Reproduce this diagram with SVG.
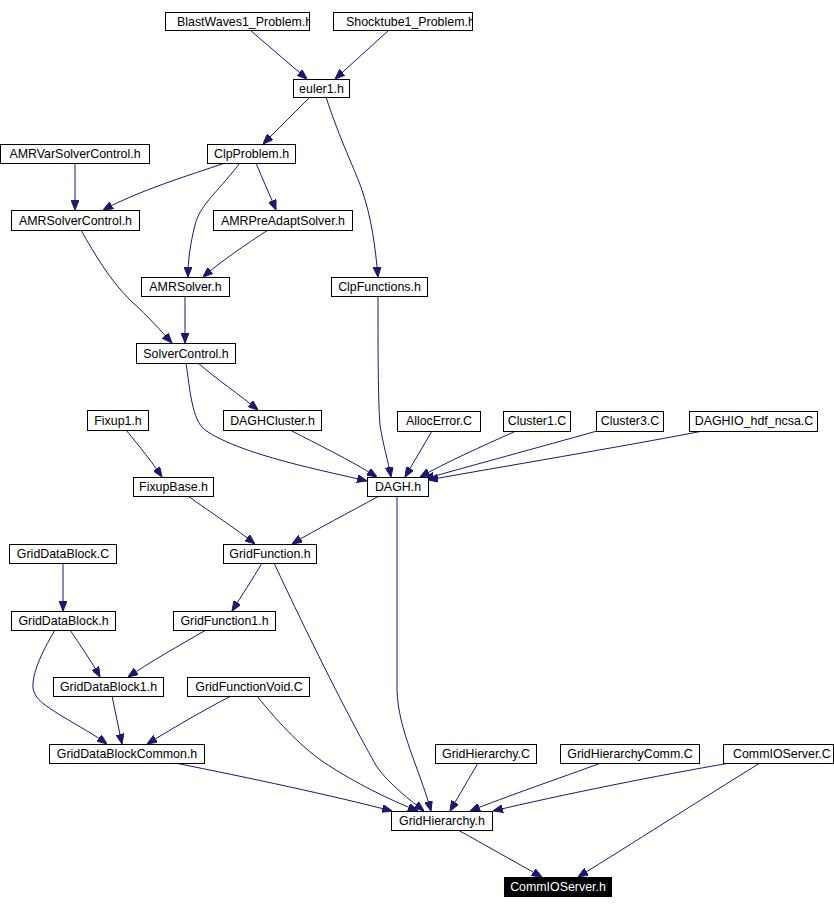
<svg xmlns="http://www.w3.org/2000/svg" width="834" height="909" viewBox="0 0 834 909">
<style>
.n rect{fill:#fff;stroke:#000;stroke-width:1}
.n text{font-family:"Liberation Sans",Arial,sans-serif;font-size:12.4px;fill:#000;text-anchor:middle}
.s text{text-anchor:start}
#CommIOServer_h rect{fill:#000}
#CommIOServer_h text{fill:#fff}
#edges path{fill:none;stroke:#191970;stroke-width:1;marker-end:url(#ah)}
</style>
<defs>
<marker id="ah" markerUnits="userSpaceOnUse" viewBox="0 0 10 8" refX="10" refY="4" markerWidth="10" markerHeight="8" orient="auto">
<path d="M0,0 L10,4 L0,8 z" fill="#191970" stroke="#191970"/>
</marker>
<clipPath id="c1"><rect x="165" y="12" width="144" height="19"/></clipPath>
<clipPath id="c2"><rect x="333" y="12" width="139" height="19"/></clipPath>
<clipPath id="c3"><rect x="723" y="744" width="110" height="20"/></clipPath>
</defs>
<rect width="834" height="909" fill="#fff"/>
<g id="edges">
<path d="M250,30 L307,79"/>
<path d="M389,30 L335,79"/>
<path d="M310,97 L263,144"/>
<path d="M326,97 C340,140 355,170 362,190 C372,220 375,245 378,277"/>
<path d="M75,163 L75,210"/>
<path d="M225,163 C190,175 140,190 103,210"/>
<path d="M240,163 C215,195 200,205 195,225 C190,245 188,260 188,277"/>
<path d="M256,163 C262,178 270,195 276,210"/>
<path d="M268,230 C245,245 220,262 203,277"/>
<path d="M81,230 C95,255 110,280 130,300 C150,318 160,330 172,343"/>
<path d="M185,296 L185,343"/>
<path d="M198,363 C215,378 240,395 258,410"/>
<path d="M186,363 C190,390 192,420 205,430 C240,455 330,472 367,481"/>
<path d="M378,296 C378,350 378,400 380,425 C383,445 388,460 391,477"/>
<path d="M290,430 C315,443 350,460 377,477"/>
<path d="M432,431 L405,477"/>
<path d="M516,431 C480,447 445,463 420,477"/>
<path d="M597,431 C540,447 470,466 424,479"/>
<path d="M703,431 C620,447 500,467 428,480"/>
<path d="M126,430 C140,447 152,462 162,477"/>
<path d="M188,496 C210,512 235,528 255,544"/>
<path d="M379,496 C350,512 315,530 292,544"/>
<path d="M397,496 L397,690 C398,730 420,770 431,811"/>
<path d="M262,563 C252,580 242,595 232,611"/>
<path d="M274,563 C310,640 350,720 377,767 C390,785 410,800 424,811"/>
<path d="M63,563 L63,611"/>
<path d="M70,630 C80,645 92,662 100,677"/>
<path d="M55,630 C40,655 32,675 33,688 C35,700 45,705 60,715 C80,727 95,735 107,744"/>
<path d="M206,630 C180,645 150,662 128,677"/>
<path d="M112,696 L122,744"/>
<path d="M231,696 C200,712 170,730 147,744"/>
<path d="M257,696 C280,725 305,750 325,763 C355,783 390,800 418,811"/>
<path d="M175,763 C250,778 330,795 392,811"/>
<path d="M478,763 L450,811"/>
<path d="M601,763 C560,778 505,797 470,811"/>
<path d="M730,763 C660,775 560,795 493,811"/>
<path d="M760,763 C700,800 630,845 578,877"/>
<path d="M458,830 C485,845 515,862 542,877"/>
</g>
<g id="BlastWaves1_Problem_h" class="n s"><rect x="165.5" y="12.5" width="144" height="18"/><text x="177" y="26" clip-path="url(#c1)">BlastWaves1_Problem.h</text></g>
<g id="Shocktube1_Problem_h" class="n s"><rect x="333.5" y="12.5" width="139" height="18"/><text x="346" y="26" clip-path="url(#c2)">Shocktube1_Problem.h</text></g>
<g id="euler1_h" class="n"><rect x="293.5" y="79.5" width="56" height="18"/><text x="321.5" y="93">euler1.h</text></g>
<g id="AMRVarSolverControl_h" class="n"><rect x="0.5" y="144.5" width="149" height="19"/><text x="75" y="158">AMRVarSolverControl.h</text></g>
<g id="ClpProblem_h" class="n"><rect x="207.5" y="144.5" width="88" height="19"/><text x="251.5" y="158">ClpProblem.h</text></g>
<g id="AMRSolverControl_h" class="n"><rect x="11.5" y="210.5" width="128" height="20"/><text x="75.5" y="225">AMRSolverControl.h</text></g>
<g id="AMRPreAdaptSolver_h" class="n"><rect x="213.5" y="210.5" width="139" height="20"/><text x="283" y="225">AMRPreAdaptSolver.h</text></g>
<g id="AMRSolver_h" class="n"><rect x="141.5" y="277.5" width="88" height="19"/><text x="185.5" y="291">AMRSolver.h</text></g>
<g id="ClpFunctions_h" class="n"><rect x="331.5" y="277.5" width="96" height="19"/><text x="379.5" y="291">ClpFunctions.h</text></g>
<g id="SolverControl_h" class="n"><rect x="136.5" y="343.5" width="99" height="20"/><text x="186" y="358">SolverControl.h</text></g>
<g id="Fixup1_h" class="n"><rect x="87.5" y="410.5" width="61" height="20"/><text x="118" y="425">Fixup1.h</text></g>
<g id="DAGHCluster_h" class="n"><rect x="223.5" y="410.5" width="98" height="20"/><text x="272.5" y="425">DAGHCluster.h</text></g>
<g id="AllocError_C" class="n"><rect x="397.5" y="411.5" width="83" height="20"/><text x="439" y="425">AllocError.C</text></g>
<g id="Cluster1_C" class="n"><rect x="503.5" y="411.5" width="67" height="20"/><text x="537" y="425">Cluster1.C</text></g>
<g id="Cluster3_C" class="n"><rect x="596.5" y="411.5" width="67" height="20"/><text x="630" y="425">Cluster3.C</text></g>
<g id="DAGHIO_hdf_ncsa_C" class="n"><rect x="689.5" y="411.5" width="128" height="20"/><text x="754" y="425">DAGHIO_hdf_ncsa.C</text></g>
<g id="FixupBase_h" class="n"><rect x="133.5" y="477.5" width="80" height="19"/><text x="173.5" y="491">FixupBase.h</text></g>
<g id="DAGH_h" class="n"><rect x="367.5" y="477.5" width="61" height="19"/><text x="398" y="491">DAGH.h</text></g>
<g id="GridDataBlock_C" class="n"><rect x="9.5" y="544.5" width="107" height="19"/><text x="63" y="558">GridDataBlock.C</text></g>
<g id="GridFunction_h" class="n"><rect x="223.5" y="544.5" width="93" height="19"/><text x="270" y="558">GridFunction.h</text></g>
<g id="GridDataBlock_h" class="n"><rect x="11.5" y="611.5" width="104" height="19"/><text x="63.5" y="625">GridDataBlock.h</text></g>
<g id="GridFunction1_h" class="n"><rect x="173.5" y="611.5" width="102" height="19"/><text x="224.5" y="625">GridFunction1.h</text></g>
<g id="GridDataBlock1_h" class="n"><rect x="53.5" y="677.5" width="110" height="19"/><text x="108.5" y="691">GridDataBlock1.h</text></g>
<g id="GridFunctionVoid_C" class="n"><rect x="187.5" y="677.5" width="122" height="19"/><text x="249" y="691">GridFunctionVoid.C</text></g>
<g id="GridDataBlockCommon_h" class="n"><rect x="49.5" y="744.5" width="155" height="19"/><text x="127" y="758">GridDataBlockCommon.h</text></g>
<g id="GridHierarchy_C" class="n"><rect x="435.5" y="744.5" width="101" height="19"/><text x="486" y="758">GridHierarchy.C</text></g>
<g id="GridHierarchyComm_C" class="n"><rect x="560.5" y="744.5" width="139" height="19"/><text x="630" y="758">GridHierarchyComm.C</text></g>
<g id="CommIOServer_C" class="n s"><rect x="723.5" y="744.5" width="110" height="19"/><text x="733" y="758" clip-path="url(#c3)">CommIOServer.C</text></g>
<g id="GridHierarchy_h" class="n"><rect x="391.5" y="811.5" width="101" height="19"/><text x="442" y="825">GridHierarchy.h</text></g>
<g id="CommIOServer_h" class="n"><rect x="504.5" y="877.5" width="107" height="19"/><text x="558" y="891">CommIOServer.h</text></g>
</svg>
